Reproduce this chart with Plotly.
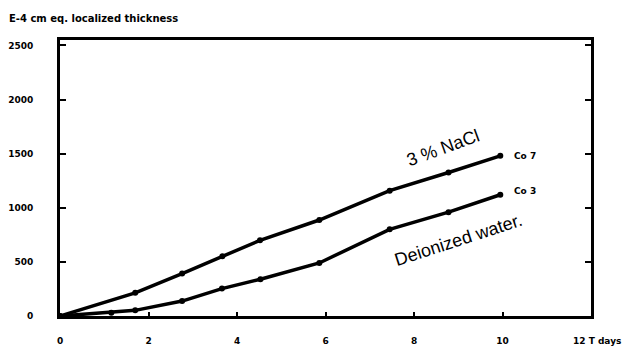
import plotly.graph_objects as go

# Exposure time (days) and localized thickness (E-4 cm eq.)
days_nacl = [0, 1.70, 2.76, 3.67, 4.52, 5.86, 7.45, 8.78, 9.95]
thick_nacl = [0, 214, 392, 551, 699, 887, 1158, 1326, 1480]

days_water = [0, 1.16, 1.70, 2.76, 3.66, 4.53, 5.86, 7.45, 8.78, 9.95]
thick_water = [0, 30, 52, 138, 253, 340, 490, 801, 959, 1120]

x_ticks = [0, 2, 4, 6, 8, 10]
y_ticks = [0, 500, 1000, 1500, 2000, 2500]

tick_font = dict(family="DejaVu Sans", size=9, color="black", weight="bold")
label_font = dict(family="Liberation Sans", size=18, color="black")

fig = go.Figure()
for xs, ys in [(days_nacl, thick_nacl), (days_water, thick_water)]:
    fig.add_trace(go.Scatter(
        x=xs, y=ys, mode="lines+markers",
        line=dict(color="black", width=3.5),
        marker=dict(color="black", size=6),
        showlegend=False, cliponaxis=False,
    ))

fig.update_layout(
    width=636, height=351,
    margin=dict(l=60, r=45, t=40, b=35),
    paper_bgcolor="white", plot_bgcolor="white",
    xaxis=dict(
        range=[0, 12], tickvals=x_ticks, ticktext=[str(v) for v in x_ticks],
        showgrid=False, zeroline=False, showline=True, linecolor="black",
        linewidth=3, mirror=True, ticks="inside", ticklen=4, tickwidth=2,
        tickcolor="black", tickfont=tick_font, ticklabelstandoff=14,
        automargin=False,
    ),
    yaxis=dict(
        range=[0, 2550], tickvals=y_ticks, ticktext=[str(v) for v in y_ticks],
        showgrid=False, zeroline=False, showline=True, linecolor="black",
        linewidth=3, mirror="ticks", ticks="inside", ticklen=6, tickwidth=2,
        tickcolor="black", tickfont=tick_font, ticklabelstandoff=22,
        automargin=False,
    ),
)

# Axis titles
fig.add_annotation(text="E-4 cm eq. localized thickness", xref="paper", yref="paper",
                   x=-0.1, y=1.0, xanchor="left", yanchor="bottom", yshift=14,
                   showarrow=False,
                   font=dict(family="DejaVu Sans", size=10, color="black", weight="bold"))
fig.add_annotation(text="12 T days", xref="x", yref="paper", x=12, y=0,
                   xanchor="left", yanchor="top", xshift=-20, yshift=-18,
                   showarrow=False, font=tick_font)

# Curve labels
fig.add_annotation(text="3 % NaCl", x=8.65, y=1555, xref="x", yref="y",
                   showarrow=False, textangle=-20, font=label_font)
fig.add_annotation(text="Deionized water.", x=9.0, y=700, xref="x", yref="y",
                   showarrow=False, textangle=-18, font=label_font)
fig.add_annotation(text="Co 7", x=days_nacl[-1], y=thick_nacl[-1], xref="x", yref="y",
                   xanchor="left", xshift=12, showarrow=False,
                   font=dict(family="DejaVu Sans", size=9, color="black", weight="bold"))
fig.add_annotation(text="Co 3", x=days_water[-1], y=thick_water[-1], xref="x", yref="y",
                   xanchor="left", xshift=12, yshift=4, showarrow=False,
                   font=dict(family="DejaVu Sans", size=9, color="black", weight="bold"))

fig.write_html("out.html")
